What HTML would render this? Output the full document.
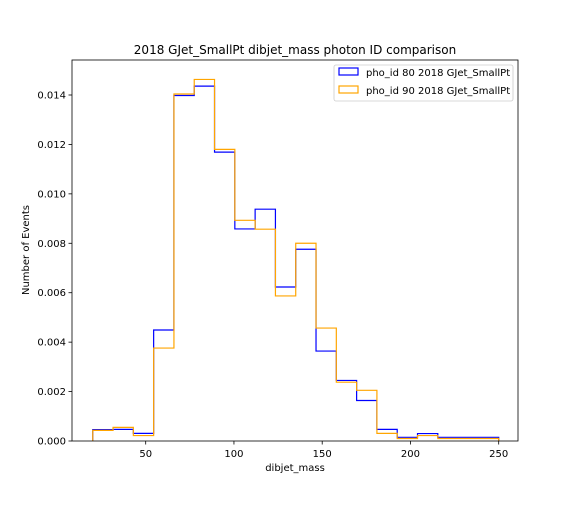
<!DOCTYPE html>
<html><head><meta charset="utf-8"><style>
body{margin:0;background:#fff;font-family:"Liberation Sans","DejaVu Sans",sans-serif}
svg text{font-family:"DejaVu Sans","Liberation Sans",sans-serif}
</style></head><body>
<svg id="chart" width="576" height="504" viewBox="0 0 576 504">
<rect width="576" height="504" fill="#fff"/>
<text x="295" y="54" text-anchor="middle" font-size="12">2018 GJet_SmallPt dibjet_mass photon ID comparison</text>
<g id="plot"></g>
</svg>
<script>
const binEdgesStart = 20;
const binWidth = 11.5;
const bluePho80 = [0.00046,0.00047,0.00031,0.00449,0.01398,0.01436,0.01169,0.00858,0.00938,0.00623,0.00776,0.00364,0.00245,0.00164,0.00047,0.00015,0.0003,0.00015,0.00015,0.00015];
const orangePho90 = [0.00043,0.00055,0.00022,0.00376,0.01404,0.01463,0.0118,0.00893,0.00857,0.00587,0.008,0.00457,0.00238,0.00205,0.00031,0.0001,0.00022,0.0001,0.0001,0.0001];
const xTicks = [50,100,150,200,250];
const yTicks = [0,0.002,0.004,0.006,0.008,0.010,0.012,0.014];
const yTickLabels = ["0.000","0.002","0.004","0.006","0.008","0.010","0.012","0.014"];

const L=72,R=518,T=60,B=441;
const xs=v=>145.7+(v-50)*1.765;
const ys=v=>B-v*346/0.014;
const NS="http://www.w3.org/2000/svg";
const g=document.getElementById('plot');
function mk(t,a){const e=document.createElementNS(NS,t);for(const k in a)e.setAttribute(k,a[k]);g.appendChild(e);return e;}

function series(vals,color,name){
  let d="M"+xs(binEdgesStart)+","+B;
  vals.forEach((v,i)=>{const x0=xs(binEdgesStart+i*binWidth),x1=xs(binEdgesStart+(i+1)*binWidth);d+=" L"+x0+","+ys(v)+" L"+x1+","+ys(v);});
  d+=" L"+xs(binEdgesStart+vals.length*binWidth)+","+B;
  const p=mk('path',{d:d,fill:'none',stroke:color,'stroke-width':1.2});
  
  
}
series(bluePho80,'#0000ff','series-pho-id-80');
series(orangePho90,'#ffa500','series-pho-id-90');

const frame=mk('rect',{x:L,y:T,width:R-L,height:B-T,fill:'none',stroke:'#000','stroke-width':0.8});



xTicks.forEach(v=>{
  const t=mk('line',{x1:xs(v),x2:xs(v),y1:B,y2:B+3.5,stroke:'#000','stroke-width':0.8});
  
  
  const l=mk('text',{x:xs(v),y:B+16,'text-anchor':'middle','font-size':10});
  l.textContent=v;
  
  
});
yTicks.forEach((v,i)=>{
  const t=mk('line',{x1:L-3.5,x2:L,y1:ys(v),y2:ys(v),stroke:'#000','stroke-width':0.8});
  
  
  const l=mk('text',{x:L-6,y:ys(v)+3.5,'text-anchor':'end','font-size':10});
  l.textContent=yTickLabels[i];
  
  
});
const xt=mk('text',{x:295,y:471,'text-anchor':'middle','font-size':10});
xt.textContent='dibjet_mass';


const yt=mk('text',{x:29,y:250,'text-anchor':'middle','font-size':10,transform:'rotate(-90 29 250)'});
yt.textContent='Number of Events';



const lg=mk('rect',{x:334,y:65,width:179,height:36,rx:2,fill:'#fff',stroke:'#ccc','stroke-width':0.8});


[['#0000ff','pho_id 80 2018 GJet_SmallPt',73],['#ffa500','pho_id 90 2018 GJet_SmallPt',91]].forEach(([c,txt,y])=>{
  const r=mk('rect',{x:339,y:y-5,width:19,height:7,fill:'none',stroke:c,'stroke-width':1.2});
  
  
  const t=mk('text',{x:366,y:y+3,'font-size':10});
  t.textContent=txt;
  
  
});
</script>
</body></html>
